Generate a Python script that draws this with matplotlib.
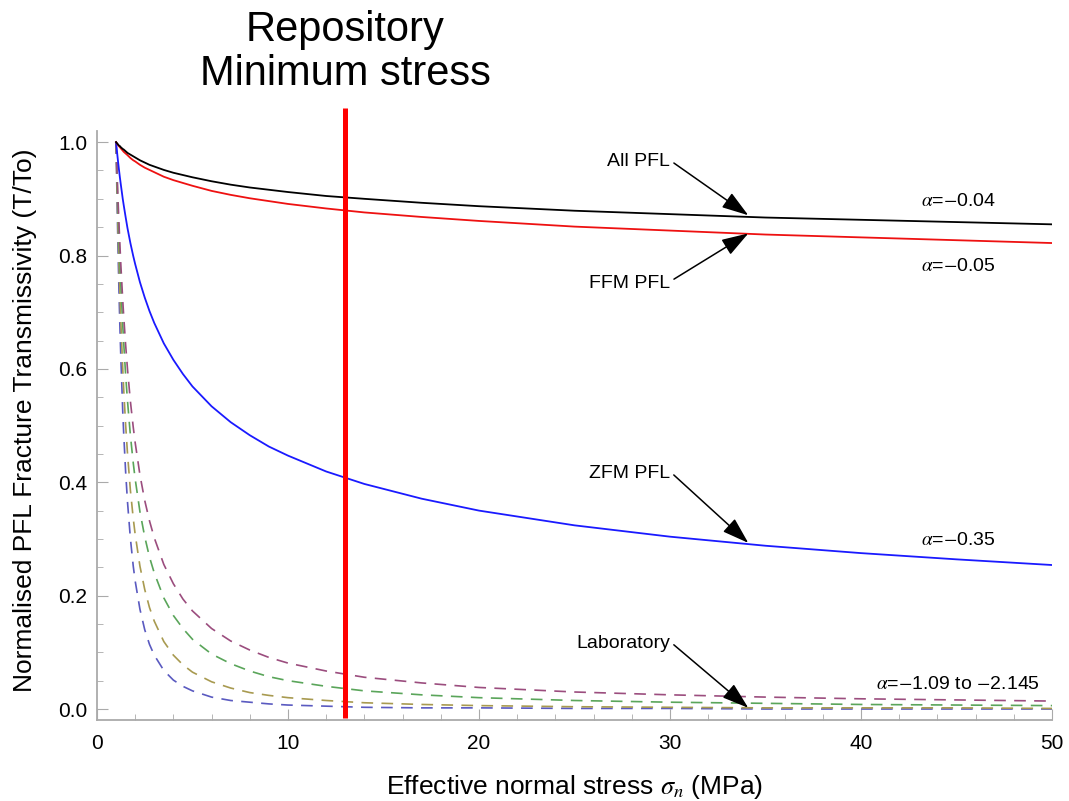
import matplotlib
matplotlib.use("Agg")
import matplotlib.pyplot as plt
from matplotlib.ticker import MultipleLocator

plt.rcParams['font.family'] = ['Liberation Sans', 'DejaVu Sans']
plt.rcParams['mathtext.fontset'] = 'stix'

# effective normal stress (MPa) and read-off normalised transmissivity T/To
stress = [1, 1.05, 1.1, 1.15, 1.2, 1.25, 1.35, 1.4, 1.5, 1.6, 1.75, 1.9, 2, 2.25, 2.5,
          2.75, 3, 3.5, 4, 4.5, 5, 6, 7, 8, 9, 10, 12, 14, 17, 20, 25, 30, 35, 40, 45, 50]
all_pfl = [1.000, 0.998, 0.996, 0.994, 0.993, 0.991, 0.988, 0.987, 0.984, 0.981, 0.978,
           0.975, 0.973, 0.968, 0.964, 0.960, 0.957, 0.951, 0.946, 0.942, 0.938, 0.931,
           0.925, 0.920, 0.916, 0.912, 0.905, 0.900, 0.893, 0.887, 0.879, 0.873, 0.867,
           0.863, 0.859, 0.855]
ffm_pfl = [1.000, 0.998, 0.995, 0.993, 0.991, 0.989, 0.985, 0.983, 0.980, 0.977, 0.972,
           0.968, 0.966, 0.960, 0.955, 0.951, 0.947, 0.939, 0.933, 0.928, 0.923, 0.914,
           0.907, 0.901, 0.896, 0.891, 0.883, 0.876, 0.868, 0.861, 0.851, 0.844, 0.837,
           0.832, 0.827, 0.822]
zfm_pfl = [1.000, 0.983, 0.967, 0.952, 0.938, 0.925, 0.900, 0.889, 0.868, 0.848, 0.822,
           0.799, 0.785, 0.753, 0.726, 0.702, 0.681, 0.645, 0.616, 0.591, 0.569, 0.534,
           0.506, 0.483, 0.463, 0.447, 0.419, 0.397, 0.371, 0.350, 0.324, 0.304, 0.288,
           0.275, 0.264, 0.254]
lab_1 = [1.000, 0.948, 0.901, 0.859, 0.820, 0.784, 0.721, 0.693, 0.643, 0.599, 0.543,
         0.497, 0.470, 0.413, 0.368, 0.332, 0.302, 0.255, 0.221, 0.194, 0.173, 0.142,
         0.120, 0.104, 0.091, 0.081, 0.067, 0.056, 0.046, 0.038, 0.030, 0.025, 0.021,
         0.018, 0.016, 0.014]
lab_2 = [1.000, 0.939, 0.883, 0.834, 0.789, 0.748, 0.677, 0.646, 0.590, 0.543, 0.483,
         0.434, 0.406, 0.348, 0.304, 0.268, 0.240, 0.196, 0.165, 0.142, 0.123, 0.097,
         0.080, 0.067, 0.057, 0.050, 0.040, 0.032, 0.025, 0.020, 0.015, 0.012, 0.010,
         0.008, 0.007, 0.006]
lab_3 = [1.000, 0.920, 0.850, 0.789, 0.734, 0.684, 0.600, 0.564, 0.502, 0.450, 0.386,
         0.336, 0.308, 0.252, 0.211, 0.179, 0.155, 0.119, 0.095, 0.078, 0.065, 0.048,
         0.037, 0.029, 0.024, 0.020, 0.015, 0.011, 0.008, 0.006, 0.004, 0.003, 0.002,
         0.002, 0.002, 0.001]
lab_4 = [1.000, 0.901, 0.815, 0.741, 0.676, 0.620, 0.525, 0.486, 0.419, 0.365, 0.301,
         0.252, 0.226, 0.176, 0.140, 0.114, 0.095, 0.068, 0.051, 0.040, 0.032, 0.021,
         0.015, 0.012, 0.009, 0.007, 0.005, 0.003, 0.002, 0.002, 0.001, 0.001, 0.000,
         0.000, 0.000, 0.000]
repo_min_stress = 13

fig = plt.figure(figsize=(10.69, 8.01), dpi=100)
ax = fig.add_axes([0.0907, 0.1007, 0.8934, 0.736])

# laboratory curves (dashed)
for ys, c in [(lab_4, '#5a5ac0'), (lab_3, '#a89a50'), (lab_2, '#5aa55a'), (lab_1, '#9b4d7e')]:
    ax.plot(stress, ys, color=c, lw=1.2, dashes=(7, 5))

ax.plot(stress, zfm_pfl, color='#1a1aff', lw=1.3)
ax.plot(stress, ffm_pfl, color='#ee1111', lw=1.3)
ax.plot(stress, all_pfl, color='black', lw=1.3)

# repository minimum stress
ax.plot([repo_min_stress, repo_min_stress], [-0.015, 1.06], color='#ff0000', lw=3.6,
        clip_on=False, solid_capstyle='butt', zorder=5)
fig.text(345 / 1069, 1 - 52 / 801, 'Repository\nMinimum stress', ha='center', va='center',
         fontsize=30, linespacing=1.15)

def arr():
    return dict(arrowstyle='-|>,head_length=1.1,head_width=0.36', color='black', lw=1.1,
                mutation_scale=15, shrinkA=1, shrinkB=0, relpos=(1.0, 0.6))

ax.annotate('All PFL', xy=(34.1, 0.871), xytext=(30.0, 0.965), ha='right', va='center',
            fontsize=14, arrowprops=arr())
ax.annotate('FFM PFL', xy=(34.1, 0.839), xytext=(30.0, 0.751), ha='right', va='center',
            fontsize=14, arrowprops=arr())
ax.annotate('ZFM PFL', xy=(34.1, 0.293), xytext=(30.0, 0.416), ha='right', va='center',
            fontsize=14, arrowprops=arr())
ax.annotate('Laboratory', xy=(34.1, 0.002), xytext=(30.0, 0.116), ha='right', va='center',
            fontsize=14, arrowprops=arr())

ax.text(45.1, 0.895, r'$\alpha$=$-$0.04', ha='center', va='center', fontsize=14)
ax.text(45.1, 0.780, r'$\alpha$=$-$0.05', ha='center', va='center', fontsize=14)
ax.text(45.1, 0.298, r'$\alpha$=$-$0.35', ha='center', va='center', fontsize=14)
ax.text(45.1, 0.044, r'$\alpha$=$-$1.09 to $-$2.145', ha='center', va='center', fontsize=14)

ax.set_xlim(0, 50)
ax.set_ylim(-0.02, 1.02)
ax.xaxis.set_major_locator(MultipleLocator(10))
ax.xaxis.set_minor_locator(MultipleLocator(2))
ax.yaxis.set_minor_locator(MultipleLocator(0.05))
ax.set_yticks([0, 0.2, 0.4, 0.6, 0.8, 1.0])
ax.set_yticklabels(['0.0', '0.2', '0.4', '0.6', '0.8', '1.0'])

for s in ['top', 'right']:
    ax.spines[s].set_visible(False)
for s in ['left', 'bottom']:
    ax.spines[s].set_color('#aaaaaa')
    ax.spines[s].set_linewidth(1.3)
ax.tick_params(which='major', direction='in', length=8, color='#aaaaaa', labelsize=15)
ax.tick_params(axis='x', which='major', pad=10)
ax.tick_params(axis='y', which='major', pad=7)
ax.tick_params(which='minor', direction='in', length=4.5, color='#aaaaaa')

fig.text(575 / 1069, 1 - 787 / 801, r'Effective normal stress $\sigma_n$ (MPa)',
         ha='center', va='center', fontsize=19)
fig.text(25 / 1069, 1 - 420 / 801, 'Normalised PFL Fracture Transmissivity (T/To)',
         ha='center', va='center', rotation=90, fontsize=19)

fig.savefig('out.png', dpi=100)
